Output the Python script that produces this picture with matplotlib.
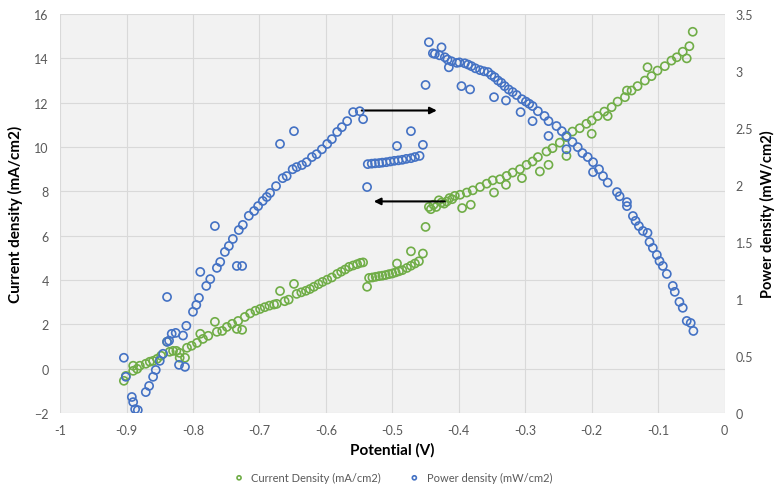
import matplotlib.pyplot as plt

# Current density (mA/cm2) vs potential (V)
cd_x = [-0.904, -0.901, -0.890, -0.890, -0.884, -0.880, -0.871, -0.865, -0.860, -0.854,
        -0.848, -0.839, -0.835, -0.830, -0.825, -0.820, -0.820, -0.812, -0.809, -0.802,
        -0.794, -0.789, -0.785, -0.777, -0.767, -0.764, -0.756, -0.749, -0.741, -0.734,
        -0.726, -0.732, -0.722, -0.714, -0.706, -0.699, -0.692, -0.685, -0.678, -0.674,
        -0.669, -0.662, -0.656, -0.648, -0.644, -0.637, -0.630, -0.624, -0.618, -0.611,
        -0.605, -0.598, -0.591, -0.583, -0.577, -0.571, -0.565, -0.559, -0.553, -0.548,
        -0.544,
        -0.538, -0.535, -0.530, -0.525, -0.520, -0.515, -0.510, -0.505, -0.500, -0.495,
        -0.493, -0.490, -0.485, -0.478, -0.472, -0.472, -0.466, -0.460, -0.454,
        -0.450, -0.445, -0.442, -0.438, -0.434, -0.430, -0.426, -0.422, -0.418, -0.414,
        -0.410, -0.406, -0.398, -0.395, -0.388, -0.382, -0.379, -0.368, -0.358, -0.349,
        -0.347, -0.338, -0.329, -0.328, -0.319, -0.308, -0.305, -0.298, -0.289, -0.281,
        -0.278, -0.268, -0.265, -0.259, -0.248, -0.238, -0.238, -0.229, -0.218, -0.208,
        -0.200, -0.200, -0.191, -0.181, -0.176, -0.170, -0.161, -0.150, -0.147, -0.140,
        -0.131, -0.120, -0.116, -0.110, -0.101, -0.090, -0.080, -0.072, -0.063, -0.057,
        -0.053, -0.048]
cd_y = [-0.54, -0.32, -0.09, 0.14, 0.00, 0.14, 0.23, 0.32, 0.36, 0.45,
        0.59, 1.22, 0.77, 0.81, 0.81, 0.72, 0.50, 0.50, 0.95, 1.04,
        1.17, 1.58, 1.35, 1.49, 2.12, 1.67, 1.71, 1.89, 2.03, 1.80,
        1.76, 2.16, 2.34, 2.50, 2.62, 2.70, 2.78, 2.85, 2.90, 2.93,
        3.51, 3.05, 3.12, 3.83, 3.38, 3.45, 3.52, 3.60, 3.70, 3.82,
        3.92, 4.02, 4.12, 4.28, 4.38, 4.48, 4.60, 4.66, 4.72, 4.78,
        4.80,
        3.70, 4.10, 4.12, 4.15, 4.18, 4.20, 4.23, 4.27, 4.30, 4.35,
        4.75, 4.40, 4.45, 4.55, 4.65, 5.30, 4.75, 4.85, 5.20,
        6.40, 7.30, 7.20, 7.40, 7.30, 7.60, 7.50, 7.45, 7.55, 7.70,
        7.65, 7.80, 7.85, 7.25, 7.95, 7.40, 8.05, 8.20, 8.35, 8.50,
        7.95, 8.55, 8.30, 8.70, 8.85, 9.00, 8.60, 9.20, 9.35, 9.55,
        8.90, 9.80, 9.20, 9.95, 10.20, 10.45, 9.60, 10.70, 10.85, 11.05,
        11.20, 10.60, 11.40, 11.60, 11.40, 11.80, 12.05, 12.25, 12.55, 12.55,
        12.75, 13.00, 13.60, 13.20, 13.45, 13.65, 13.90, 14.05, 14.30, 14.00,
        14.55, 15.20]

# Power density (mW/cm2) vs potential (V)
pd_x = [-0.904, -0.901, -0.892, -0.890, -0.887, -0.883, -0.871, -0.866, -0.860, -0.856,
        -0.850, -0.845, -0.839, -0.836, -0.839, -0.832, -0.826, -0.821, -0.815, -0.812,
        -0.810, -0.800, -0.795, -0.791, -0.789, -0.780, -0.774, -0.767, -0.764, -0.759,
        -0.752, -0.746, -0.740, -0.734, -0.726, -0.731, -0.725, -0.716, -0.708, -0.702,
        -0.695, -0.689, -0.684, -0.675, -0.669, -0.665, -0.659, -0.648, -0.650, -0.644,
        -0.636, -0.629, -0.621, -0.614, -0.606, -0.598, -0.591, -0.583, -0.576, -0.568,
        -0.559, -0.549, -0.544,
        -0.538, -0.537, -0.531, -0.526, -0.520, -0.515, -0.509, -0.503, -0.497, -0.491,
        -0.485, -0.479, -0.472, -0.466, -0.459, -0.493, -0.472, -0.454,
        -0.450, -0.445, -0.439, -0.436, -0.429, -0.426, -0.421, -0.417, -0.415, -0.411,
        -0.403, -0.399, -0.396, -0.391, -0.386, -0.383, -0.381, -0.375, -0.368, -0.362,
        -0.356, -0.351, -0.347, -0.346, -0.341, -0.336, -0.331, -0.329, -0.325, -0.319,
        -0.313, -0.307, -0.305, -0.299, -0.294, -0.289, -0.289, -0.281, -0.271, -0.265,
        -0.265, -0.253, -0.245, -0.238, -0.238, -0.229, -0.221, -0.214, -0.206, -0.198,
        -0.198, -0.189, -0.183, -0.176, -0.162, -0.158, -0.147, -0.147, -0.138, -0.134,
        -0.129, -0.123, -0.116, -0.113, -0.108, -0.102, -0.098, -0.093, -0.087, -0.078,
        -0.075, -0.068, -0.063, -0.057, -0.051, -0.047]
pd_y = [0.486, 0.319, 0.142, 0.097, 0.035, 0.027, 0.185, 0.239, 0.319, 0.379,
        0.459, 0.521, 0.626, 0.636, 1.019, 0.696, 0.704, 0.424, 0.681, 0.406,
        0.766, 0.889, 0.949, 1.011, 1.239, 1.116, 1.176, 1.641, 1.274, 1.326,
        1.414, 1.466, 1.528, 1.291, 1.291, 1.606, 1.651, 1.731, 1.773, 1.816,
        1.861, 1.896, 1.931, 1.991, 2.361, 2.061, 2.079, 2.473, 2.139, 2.158,
        2.176, 2.201, 2.246, 2.271, 2.314, 2.361, 2.403, 2.466, 2.508, 2.561,
        2.640, 2.648, 2.578,
        1.983, 2.184, 2.188, 2.191, 2.193, 2.197, 2.201, 2.207, 2.213, 2.217,
        2.222, 2.230, 2.236, 2.246, 2.256, 2.343, 2.473, 2.353,
        2.878, 3.253, 3.156, 3.150, 3.138, 3.208, 3.121, 3.101, 3.033, 3.086,
        3.072, 3.076, 2.868, 3.068, 3.057, 2.839, 3.043, 3.024, 3.008, 2.998,
        2.991, 2.965, 2.771, 2.946, 2.917, 2.897, 2.868, 2.742, 2.839, 2.816,
        2.790, 2.640, 2.753, 2.732, 2.713, 2.693, 2.561, 2.648, 2.606, 2.561,
        2.431, 2.518, 2.473, 2.431, 2.314, 2.378, 2.333, 2.281, 2.246, 2.201,
        2.114, 2.139, 2.079, 2.022, 1.939, 1.902, 1.851, 1.816, 1.729, 1.686,
        1.641, 1.598, 1.581, 1.501, 1.449, 1.388, 1.334, 1.291, 1.221, 1.116,
        1.064, 0.976, 0.924, 0.809, 0.791, 0.721]

x_ticks = [-1, -0.9, -0.8, -0.7, -0.6, -0.5, -0.4, -0.3, -0.2, -0.1, 0]
x_labels = ['-1', '-0.9', '-0.8', '-0.7', '-0.6', '-0.5', '-0.4', '-0.3', '-0.2', '-0.1', '0']
left_ticks = [-2, 0, 2, 4, 6, 8, 10, 12, 14, 16]
right_ticks = [0, 0.5, 1, 1.5, 2, 2.5, 3, 3.5]
right_labels = ['0', '0.5', '1', '1.5', '2', '2.5', '3', '3.5']

# arrows: (tail x, head x, y on left axis)
arrow_right = (-0.546, -0.433, 11.65)
arrow_left = (-0.421, -0.528, 7.55)

green = '#70ad47'
blue = '#4472c4'
grey = '#595959'

plt.rcParams['font.family'] = ['Lato', 'DejaVu Sans']

fig = plt.figure(figsize=(7.8, 4.85), dpi=100)
ax = fig.add_axes([0.077, 0.146, 0.852, 0.823])
ax2 = ax.twinx()

ax.set_facecolor('#f2f2f2')
ax.set_xlim(-1, 0)
ax.set_ylim(-2, 16)
ax2.set_ylim(0, 3.5)
ax.set_xticks(x_ticks)
ax.set_xticklabels(x_labels)
ax.set_yticks(left_ticks)
ax2.set_yticks(right_ticks)
ax2.set_yticklabels(right_labels)
ax.grid(True, color='#d9d9d9', linewidth=0.8)
ax.set_axisbelow(True)

for a in (ax, ax2):
    for s in a.spines.values():
        s.set_visible(False)
    a.tick_params(length=0, labelsize=9, colors=grey, pad=8)

h1 = ax.scatter(cd_x, cd_y, s=34, facecolors='none', edgecolors=green,
                linewidths=1.2, label='Current Density (mA/cm2)', zorder=3)
h2 = ax2.scatter(pd_x, pd_y, s=34, facecolors='none', edgecolors=blue,
                 linewidths=1.2, label='Power density (mW/cm2)', zorder=3)

for tail, head, yy in (arrow_right, arrow_left):
    ax.annotate('', xy=(head, yy), xytext=(tail, yy),
                arrowprops=dict(arrowstyle='-|>', color='black', lw=1.5,
                                mutation_scale=10, shrinkA=0, shrinkB=0),
                zorder=5)

ax.set_xlabel('Potential (V)', fontsize=11, fontweight='bold', labelpad=4)
ax.set_ylabel('Current density (mA/cm2)', fontsize=11, fontweight='bold', labelpad=8)
ax2.set_ylabel('Power density (mW/cm2)', fontsize=10.5, fontweight='bold', labelpad=5)

fig.legend(handles=[h1, h2], loc='lower center', bbox_to_anchor=(0.5, -0.018),
           ncol=2, frameon=False, fontsize=8, labelcolor=grey,
           markerscale=0.5, handletextpad=0.1, columnspacing=2.0)

plt.savefig('out.png', dpi=100)
